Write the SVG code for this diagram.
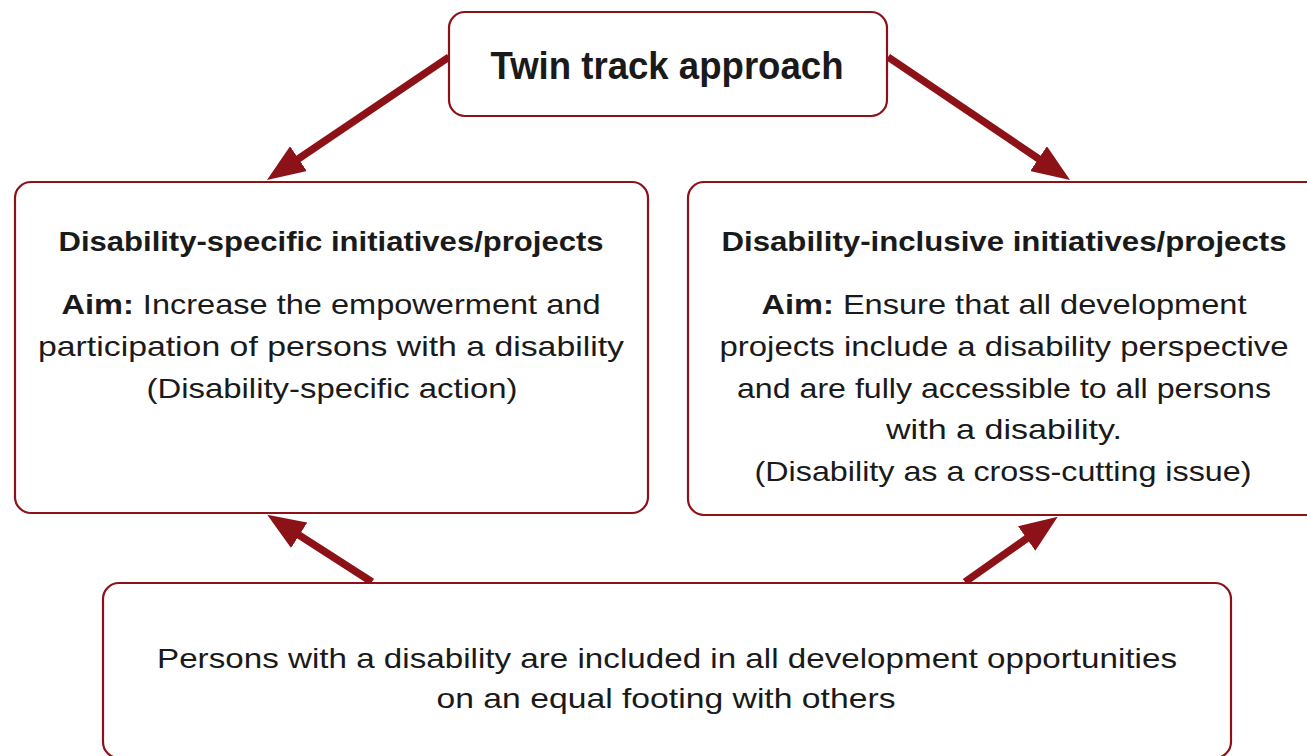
<svg xmlns="http://www.w3.org/2000/svg" width="1307" height="756" viewBox="0 0 1307 756">
<style>
.box{fill:#fff;stroke:#8d1218;stroke-width:2.2}
.conn{stroke:#8d1218;stroke-width:7.5;fill:none;marker-end:url(#ah)}
text{font-family:"Liberation Sans",Arial,sans-serif;fill:#1a1a1a;text-anchor:middle;font-size:28px}
.t{font-size:38px;font-weight:bold}
.b{font-weight:bold}
</style>
<defs>
<marker id="ah" markerUnits="userSpaceOnUse" markerWidth="38" markerHeight="30" viewBox="0 0 38 30" refX="2" refY="15" orient="auto">
<path d="M0,0 L38,15 L0,30 z" fill="#8d1218"/>
</marker>
</defs>
<rect width="1307" height="756" fill="#fff"/>
<g id="connectors">
<line class="conn" x1="449" y1="57" x2="296.8" y2="159.8"/>
<line class="conn" x1="888" y1="57" x2="1040.2" y2="159.8"/>
<line class="conn" x1="372" y1="582" x2="297.5" y2="534.2"/>
<line class="conn" x1="965" y1="582" x2="1028.3" y2="537.4"/>
</g>
<g id="twin-track">
<rect class="box" x="449" y="12" width="438" height="104" rx="16"/>
<text class="t" x="667" y="79" textLength="353" lengthAdjust="spacingAndGlyphs">Twin track approach</text>
</g>
<g id="disability-specific">
<rect class="box" x="15" y="182" width="633" height="331" rx="16"/>
<text class="b" x="331" y="251" textLength="545" lengthAdjust="spacingAndGlyphs">Disability-specific initiatives/projects</text>
<text x="331" y="314" textLength="539" lengthAdjust="spacingAndGlyphs"><tspan class="b">Aim:</tspan> Increase the empowerment and</text>
<text x="331" y="356" textLength="586" lengthAdjust="spacingAndGlyphs">participation of persons with a disability</text>
<text x="332" y="398" textLength="371" lengthAdjust="spacingAndGlyphs">(Disability-specific action)</text>
</g>
<g id="disability-inclusive">
<rect class="box" x="688" y="182" width="640" height="333" rx="16"/>
<text class="b" x="1004" y="251" textLength="565" lengthAdjust="spacingAndGlyphs">Disability-inclusive initiatives/projects</text>
<text x="1004" y="314" textLength="485" lengthAdjust="spacingAndGlyphs"><tspan class="b">Aim:</tspan> Ensure that all development</text>
<text x="1004" y="356" textLength="569" lengthAdjust="spacingAndGlyphs">projects include a disability perspective</text>
<text x="1004" y="398" textLength="534" lengthAdjust="spacingAndGlyphs">and are fully accessible to all persons</text>
<text x="1004" y="439" textLength="236" lengthAdjust="spacingAndGlyphs">with a disability.</text>
<text x="1003" y="481" textLength="497" lengthAdjust="spacingAndGlyphs">(Disability as a cross-cutting issue)</text>
</g>
<g id="persons-included">
<rect class="box" x="103" y="583" width="1128" height="175" rx="16"/>
<text x="667" y="668" textLength="1020" lengthAdjust="spacingAndGlyphs">Persons with a disability are included in all development opportunities</text>
<text x="666" y="708" textLength="459" lengthAdjust="spacingAndGlyphs">on an equal footing with others</text>
</g>
</svg>
